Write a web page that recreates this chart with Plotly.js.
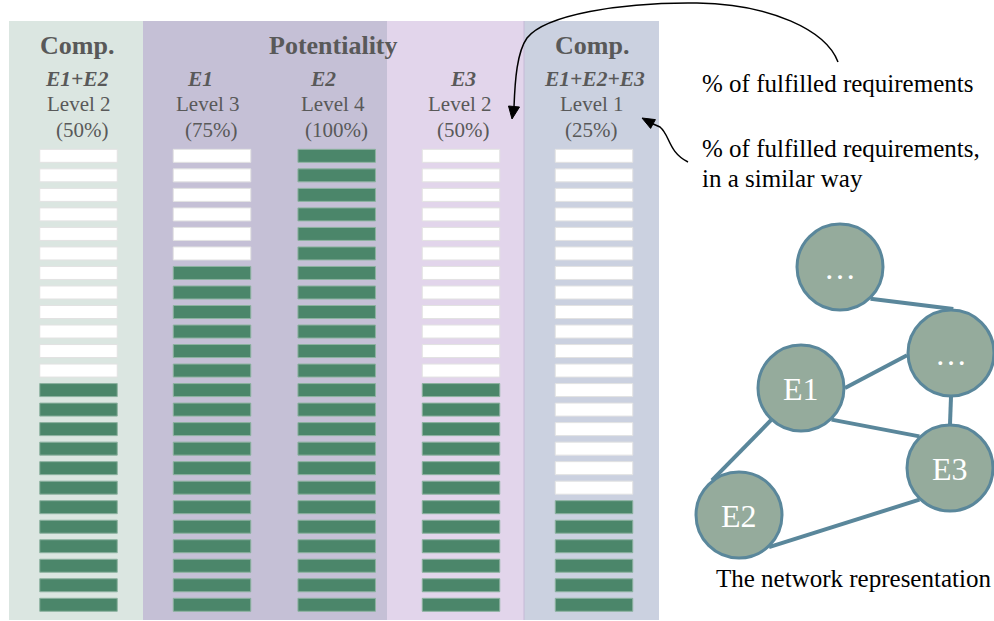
<!DOCTYPE html>
<html><head><meta charset="utf-8">
<script src="https://cdn.plot.ly/plotly-3.0.1.min.js"></script>
<style>html,body{margin:0;padding:0;background:#fff}#chart{width:994px;height:621px}</style>
</head><body><div id="chart"></div>
<script>
// ---------------- data ----------------
const columns = ['E1+E2', 'E1', 'E2', 'E3', 'E1+E2+E3'];
const levels = ['Level 2', 'Level 3', 'Level 4', 'Level 2', 'Level 1'];
const percents = [50, 75, 100, 50, 25];
const segmentCount = 24;
const groupHeaders = ['Comp.', 'Potentiality', 'Comp.'];
const noteTexts = ['% of fulfilled requirements', '% of fulfilled requirements,', 'in a similar way'];
const networkTitle = 'The network representation';

// network graph
const nodeLabels = ['…', '…', 'E1', 'E3', 'E2'];
const nodeX = [840, 951, 801, 950, 739];
const nodeY = [267, 353, 388, 468, 515];
const edges = [[0, 1], [2, 1], [2, 3], [1, 3], [2, 4], [4, 3]];
const edgeAngles = [[46, -87], [0, 177], [46, 226], [90, -90], [133, 232], [47, 134]];

// ---------------- layout / style config ----------------
const CFG = {
  W: 994, H: 621,
  panels: [
    {x0: 9, x1: 143, color: '#dbe6e1'},
    {x0: 143, x1: 387, color: '#c5c0d6'},
    {x0: 387, x1: 524, color: '#e2d5eb'},
    {x0: 524, x1: 659, color: '#cbd1e0'}
  ],
  panelTop: 21, panelBottom: 620,
  colX: [78.5, 212, 336.7, 461, 594],
  barWidth: 77.5,
  segPitch: 19.52, segHeight: 13, segBottom: 611.3,
  headerX: [77, 333.8, 591.7], headerY: 45.5,
  eX: [76.7, 200, 323.3, 462.5, 594.2], eY: 78.7,
  levelX: [78.8, 207.7, 333.3, 460, 591.7], levelY: 104.2,
  pctX: [81.7, 210.8, 336.7, 462.5, 590.8], pctY: 130,
  noteX: 700, noteY: [83, 148, 178],
  netTitleX: 853, netTitleY: 578,
  nodeR: 44, nodeFont: 32,
  green: '#4b866a', greenLine: '#8db2a0',
  white: '#ffffff', whiteLine: '#e2e2e2',
  gray: '#595959',
  nodeFill: '#95ab9c', nodeLine: '#5a879b',
  font: 'Liberation Serif, Times New Roman, serif'
};

// ---------------- bars ----------------
const unitH = CFG.segHeight / CFG.segPitch;
const fX = [], fB = [], fY = [], eXs = [], eB = [], eY = [];
columns.forEach((c, ci) => {
  const filled = Math.round(percents[ci] / 100 * segmentCount);
  for (let i = 0; i < segmentCount; i++) {
    if (i < filled) { fX.push(CFG.colX[ci]); fB.push(i); fY.push(unitH); }
    else { eXs.push(CFG.colX[ci]); eB.push(i); eY.push(unitH); }
  }
});
const yMin = (CFG.segBottom - CFG.H) / CFG.segPitch;
const yMax = CFG.segBottom / CFG.segPitch;

const traces = [
  {type: 'bar', x: fX, y: fY, base: fB, width: CFG.barWidth, hoverinfo: 'skip',
   marker: {color: CFG.green, line: {color: CFG.greenLine, width: 1}}, xaxis: 'x', yaxis: 'y'},
  {type: 'bar', x: eXs, y: eY, base: eB, width: CFG.barWidth, hoverinfo: 'skip',
   marker: {color: CFG.white, line: {color: CFG.whiteLine, width: 1}}, xaxis: 'x', yaxis: 'y'}
];

// ---------------- network ----------------
const ex = [], ey = [];
edges.forEach((e, k) => {
  const [a, b] = e, [aa, ab] = edgeAngles[k];
  const ra = aa * Math.PI / 180, rb = ab * Math.PI / 180;
  ex.push(nodeX[a] + CFG.nodeR * Math.cos(ra), nodeX[b] + CFG.nodeR * Math.cos(rb), null);
  ey.push(nodeY[a] + CFG.nodeR * Math.sin(ra), nodeY[b] + CFG.nodeR * Math.sin(rb), null);
});
traces.push({type: 'scatter', mode: 'lines', x: ex, y: ey, xaxis: 'x', yaxis: 'y2',
  line: {color: CFG.nodeLine, width: 4}, hoverinfo: 'skip'});
traces.push({type: 'scatter', mode: 'markers', x: nodeX, y: nodeY, xaxis: 'x', yaxis: 'y2', hoverinfo: 'skip',
  marker: {size: CFG.nodeR * 2 - 2, color: CFG.nodeFill, line: {color: CFG.nodeLine, width: 3}}});

// ---------------- shapes ----------------
const shapes = CFG.panels.map(p => ({type: 'rect', xref: 'x', yref: 'y2', layer: 'below',
  x0: p.x0, x1: p.x1, y0: CFG.panelTop, y1: CFG.panelBottom, fillcolor: p.color, line: {width: 0}}));
shapes.push({type: 'line', xref: 'x', yref: 'y2', layer: 'below', x0: 524, x1: 524,
  y0: CFG.panelTop, y1: CFG.panelBottom, line: {color: '#c6b9d6', width: 1}});
// curved arrows
shapes.push({type: 'path', xref: 'x', yref: 'y2',
  path: 'M 838 62 C 826 30 770 4 697 3 C 620 2 545 15 527 38 C 517 52 515 80 514 107',
  line: {color: '#000', width: 1.5}});
shapes.push({type: 'path', xref: 'x', yref: 'y2', path: 'M 512 119 L 519.5 107 L 508.5 106 Z',
  fillcolor: '#000', line: {color: '#000', width: 1}});
shapes.push({type: 'path', xref: 'x', yref: 'y2',
  path: 'M 688 162 C 668 152 670 135 660 127 L 652 123.5',
  line: {color: '#000', width: 1.5}});
shapes.push({type: 'path', xref: 'x', yref: 'y2', path: 'M 642 118 L 655.4 119.6 L 650.6 128.4 Z',
  fillcolor: '#000', line: {color: '#000', width: 1}});

// ---------------- annotations ----------------
const ann = [];
function txt(x, y, text, size, color, align) {
  ann.push({xref: 'x', yref: 'y2', x: x, y: y, text: text, showarrow: false,
    xanchor: align || 'center', yanchor: 'middle',
    font: {family: CFG.font, size: size, color: color}});
}
groupHeaders.forEach((g, i) => txt(CFG.headerX[i], CFG.headerY, '<b>' + g + '</b>', 26, CFG.gray));
columns.forEach((c, i) => {
  txt(CFG.eX[i], CFG.eY, '<b><i>' + c + '</i></b>', 21.5, CFG.gray);
  txt(CFG.levelX[i], CFG.levelY, levels[i], 21, CFG.gray);
  txt(CFG.pctX[i], CFG.pctY, '(' + percents[i] + '%)', 21, CFG.gray);
});
noteTexts.forEach((t, i) => txt(CFG.noteX, CFG.noteY[i], t, 25, '#000', 'left'));
txt(CFG.netTitleX, CFG.netTitleY, networkTitle, 25, '#000');
// node labels ("…" sits on the baseline, so it is drawn at the same text centre as the others)
nodeLabels.forEach((t, i) => txt(nodeX[i], nodeY[i] + 1, t, CFG.nodeFont, '#ffffff'));

const layout = {
  width: CFG.W, height: CFG.H,
  margin: {l: 0, r: 0, t: 0, b: 0, pad: 0},
  paper_bgcolor: '#ffffff', plot_bgcolor: 'rgba(0,0,0,0)',
  showlegend: false, barmode: 'overlay', bargap: 0,
  xaxis: {range: [0, CFG.W], visible: false, fixedrange: true},
  yaxis: {range: [yMin, yMax], visible: false, fixedrange: true},
  yaxis2: {range: [CFG.H, 0], visible: false, fixedrange: true, overlaying: 'y'},
  shapes: shapes, annotations: ann
};
Plotly.newPlot('chart', traces, layout, {staticPlot: true, displayModeBar: false});
</script></body></html>
